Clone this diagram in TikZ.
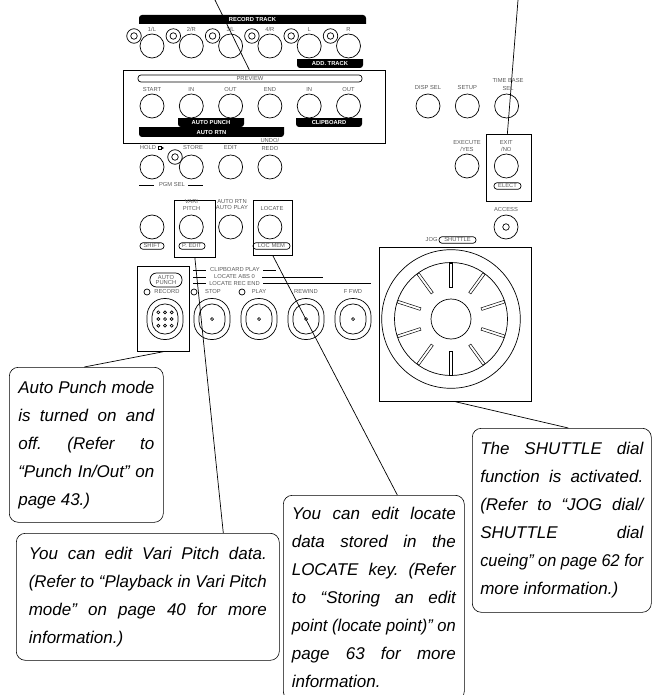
\documentclass[tikz,border=0pt]{standalone}
\usepackage{graphicx}
\usepackage{fontspec}
\setmainfont{Liberation Sans}
\usetikzlibrary{positioning}
\newsavebox{\fitbox}
\newcommand{\fitline}[2]{\leavevmode\spaceskip=0pt\xspaceskip=0pt\frenchspacing\sbox{\fitbox}{#2}\ifdim\wd\fitbox>#1pt\resizebox{#1pt}{\height}{\usebox{\fitbox}}\else\hbox to #1pt{#2}\fi}

\begin{document}
\begin{tikzpicture}[x=1pt,y=-1pt,node distance=39.3pt,on grid,line width=0.7pt,
 knob/.style={circle,draw,fill=white,minimum size=24pt,inner sep=0pt},
 jack/.style={circle,draw,minimum size=14.5pt,inner sep=0pt},
 jackhole/.style={circle,draw,minimum size=6.5pt,inner sep=0pt},
 led/.style={circle,draw,minimum size=6pt,inner sep=0pt},
 tag/.style={font=\fontsize{5.8}{7.3}\selectfont,text=black!65,inner sep=0pt,align=center},
 tighttag/.style={tag,font=\fontsize{5.8}{5.8}\selectfont},
 pill/.style={tag,draw=black,rounded corners=3pt,minimum height=6.5pt},
 barlabel/.style={font=\fontsize{5.8}{7}\selectfont\bfseries,text=white,inner sep=0pt},
 barup/.style={barlabel,path picture={\fill[rounded corners=3pt] ([yshift=-6pt]path picture bounding box.south west) rectangle (path picture bounding box.north east);}},
 bardown/.style={barlabel,path picture={\fill[rounded corners=3pt] (path picture bounding box.south west) rectangle ([yshift=6pt]path picture bounding box.north east);}},
 panelbox/.style={draw,inner sep=0pt,anchor=north west},
 oval/.style={draw,rounded corners=17.5pt,minimum width=36pt,minimum height=41pt,inner sep=0pt},
 ovalin/.style={draw,rounded corners=12.5pt,minimum width=26pt,minimum height=30pt,inner sep=0pt},
 hole/.style={circle,draw,fill=white,minimum size=3pt,inner sep=0pt},
 slot/.style={draw,fill=white,minimum width=24pt,minimum height=2.7pt,inner sep=0pt,line width=0.5pt},
 tick/.style={line width=1pt},
 note/.style={draw,fill=white,rounded corners=9pt,anchor=north west,inner ysep=0pt,line width=0.6pt,
  align=left,font=\fontsize{17}{28}\selectfont\itshape},
 leader/.style={line width=0.7pt}]
\useasboundingbox (0,0) rectangle (653,695);
% record track row
\node[barup,minimum width=227pt,minimum height=9pt] (recordbar) at (252.5,19.5) {RECORD TRACK};
\node[jack] (j1) at (134,36) {};
\node[jackhole] (j1h) at (j1) {};
\node[jack,right=of j1] (j2) {};
\node[jackhole] (j2h) at (j2) {};
\node[jack,right=of j2] (j3) {};
\node[jackhole] (j3h) at (j3) {};
\node[jack,right=of j3] (j4) {};
\node[jackhole] (j4h) at (j4) {};
\node[jack,right=of j4] (j5) {};
\node[jackhole] (j5h) at (j5) {};
\node[jack,right=of j5] (j6) {};
\node[jackhole] (j6h) at (j6) {};
\node[knob] (r1) at (152,46) {};
\node[knob,right=of r1] (r2) {};
\node[knob,right=of r2] (r3) {};
\node[knob,right=of r3] (r4) {};
\node[knob,right=of r4] (r5) {};
\node[knob,right=of r5] (r6) {};
\node[tag,above=16.5pt of r1] (r1t) {1/L};
\node[tag,above=16.5pt of r2] (r2t) {2/R};
\node[tag,above=16.5pt of r3] (r3t) {3/L};
\node[tag,above=16.5pt of r4] (r4t) {4/R};
\node[tag,above=16.5pt of r5] (r5t) {L};
\node[tag,above=16.5pt of r6] (r6t) {R};
\node[bardown,minimum width=66pt,minimum height=8pt] (addbar) at (330,64) {ADD. TRACK};
% preview panel
\node[panelbox,minimum width=262pt,minimum height=73pt] (previewbox) at (123,70) {};
\node[pill,minimum width=224pt,minimum height=7pt] (previewbar) at (250,78.5) {PREVIEW};
\node[knob] (p1) at (152,106) {};
\node[knob,right=of p1] (p2) {};
\node[knob,right=of p2] (p3) {};
\node[knob,right=of p3] (p4) {};
\node[knob,right=of p4] (p5) {};
\node[knob,right=of p5] (p6) {};
\node[tag,above=16pt of p1] (p1t) {START};
\node[tag,above=16pt of p2] (p2t) {IN};
\node[tag,above=16pt of p3] (p3t) {OUT};
\node[tag,above=16pt of p4] (p4t) {END};
\node[tag,above=16pt of p5] (p5t) {IN};
\node[tag,above=16pt of p6] (p6t) {OUT};
\node[bardown,minimum width=66pt,minimum height=8pt] (punchbar) at (211,123) {AUTO PUNCH};
\node[bardown,minimum width=145pt,minimum height=9pt] (rtnbar) at (211.5,132.5) {AUTO RTN};
\node[bardown,minimum width=66pt,minimum height=8pt] (clipbar) at (329,123) {CLIPBOARD};
% right hand keys
\node[knob] (disp) at (428,106) {};
\node[knob,right=of disp] (setup) {};
\node[knob,right=of setup] (timebase) {};
\node[tag,above=18pt of disp] (dispt) {DISP SEL};
\node[tag,above=18pt of setup] (setupt) {SETUP};
\node[tag,above=21.5pt of timebase,xshift=1.5pt] (timebaset) {TIME BASE\\SEL};
\node[panelbox,minimum width=45pt,minimum height=67pt] (exitbox) at (486,134) {};
\node[knob] (execute) at (467,166) {};
\node[knob,right=of execute] (exit) {};
\node[tag,above=20pt of execute] (executet) {EXECUTE\\/YES};
\node[tag,above=20pt of exit] (exitt) {EXIT\\/NO};
\node[pill,minimum width=27pt] (elect) at (507.5,186) {ELECT};
\node[knob] (access) at (506,227) {};
\node[jackhole] (accessh) at (access) {};
\node[tag,above=17pt of access] (accesst) {ACCESS};
% second row
\node[jack] (j7) at (175,157) {};
\node[jackhole] (j7h) at (j7) {};
\node[knob] (hold) at (152,167) {};
\node[knob,right=of hold] (store) {};
\node[knob,right=of store] (edit) {};
\node[knob,right=of edit] (redo) {};
\node[tag,anchor=west] (holdt) at (139.5,148) {HOLD};
\node[tag] (storet) at (193,148) {STORE};
\node[tag,above=19pt of edit] (editt) {EDIT};
\node[tag,above=22.5pt of redo] (redot) {UNDO/\\REDO};
\draw (158,146.5) rectangle (161,149.5);
\fill (161,146.5) -- (164,148) -- (161,149.5) -- cycle;
\node[tag] (pgmsel) at (172,185) {PGM SEL};
\draw ([xshift=-5pt]pgmsel.west) -- ++(-15,0);
\draw ([xshift=3pt]pgmsel.east) -- ++(15,0);
% third row
\node[knob] (shift) at (152,227) {};
\node[knob,right=of shift] (vari) {};
\node[knob,right=of vari] (rtnplay) {};
\node[knob,right=of rtnplay] (locate) {};
\node[pill,minimum width=24pt] (shiftt) at (152,246) {SHIFT};
\node[panelbox,minimum width=41pt,minimum height=57pt] (varibox) at (174,200) {};
\node[panelbox,minimum width=39pt,minimum height=55pt] (locatebox) at (253,200) {};
\node[tighttag] (varit) at (191.5,205) {VARI\\[0.4pt]PITCH};
\node[pill,minimum width=26pt] (pedit) at (192,246) {P. EDIT};
\node[tighttag] (rtnplayt) at (232,204.5) {AUTO RTN\\AUTO PLAY};
\node[tag] (locatet) at (272,209) {LOCATE};
\node[pill,minimum width=37pt] (locmem) at (271.5,246) {LOC MEM};
% transport
\node[panelbox,minimum width=52pt,minimum height=85pt] (punchbox) at (137,266) {};
\node[tag,draw=black,rounded corners=6.5pt,minimum width=32pt,minimum height=14pt] (punchkey) at (166,280) {AUTO\\[-1.5pt]PUNCH};
\node[led] (recled) at (147,292) {};
\node[tag] (rect) at (167,292) {RECORD};
\node[led] (stopled) at (194,292) {};
\node[tag] (stopt) at (213,292) {STOP};
\node[led] (playled) at (242,292) {};
\node[tag] (playt) at (259,292) {PLAY};
\node[tag] (rewt) at (306,292) {REWIND};
\node[tag] (fwdt) at (353,292) {F FWD};
\node[oval] (rec) at (165,319) {};
\node[ovalin] (recin) at (rec) {};
\node[oval] (stop) at (212,319) {};
\node[ovalin] (stopin) at (stop) {};
\node[hole] (stoph) at (stop) {};
\node[oval] (play) at (259,319) {};
\node[ovalin] (playin) at (play) {};
\node[hole] (playh) at (play) {};
\node[oval] (rew) at (306,319) {};
\node[ovalin] (rewin) at (rew) {};
\node[hole] (rewh) at (rew) {};
\node[oval] (fwd) at (353,319) {};
\node[ovalin] (fwdin) at (fwd) {};
\node[hole] (fwdh) at (fwd) {};
\node[hole] (d5) at (rec) {};
\node[hole] (d2) at ([yshift=6.7pt]d5) {};
\node[hole] (d8) at ([yshift=-6.7pt]d5) {};
\node[hole] (d4) at ([xshift=-6.7pt]d5) {};
\node[hole] (d6) at ([xshift=6.7pt]d5) {};
\node[hole] (d1) at ([xshift=-6.7pt]d2) {};
\node[hole] (d3) at ([xshift=6.7pt]d2) {};
\node[hole] (d7) at ([xshift=-6.7pt]d8) {};
\node[hole] (d9) at ([xshift=6.7pt]d8) {};
% locate legend
\node[tag] (legendone) at (235,270) {CLIPBOARD PLAY};
\node[tag] (legendtwo) at (234.5,277) {LOCATE ABS 0};
\node[tag] (legendthree) at (234.5,283.5) {LOCATE REC END};
\draw[tick] ([xshift=-4pt]legendone.west) -- ++(-13,0);
\draw[tick] ([xshift=-8pt]legendtwo.west) -- ++(-13,0);
\draw[tick] ([xshift=-3pt]legendthree.west) -- ++(-13,0);
\draw[tick] ([xshift=3pt]legendone.east) -- ++(13,0);
\draw[tick] ([xshift=7pt]legendtwo.east) -- ++(61,0);
\draw[tick] ([xshift=3pt]legendthree.east) -- ++(108,0);
% jog dial
\node[tag,anchor=east] (jogt) at (438,240) {JOG};
\node[pill,minimum width=37pt] (shuttlet) at (457.5,240) {SHUTTLE};
\node[panelbox,minimum width=152pt,minimum height=154pt] (jogbox) at (379,247) {};
\node[circle,draw,minimum size=138.6pt,inner sep=0pt] (jogouter) at (451,319) {};
\node[circle,draw,minimum size=113pt,inner sep=0pt] (jogmid) at (jogouter) {};
\node[circle,draw,minimum size=40pt,inner sep=0pt] (jogin) at (jogouter) {};
\path (jogouter) ++(90:44pt) node[slot,rotate=90] (s1) {};
\path (jogouter) ++(54:44pt) node[slot,rotate=54] (s2) {};
\path (jogouter) ++(18:44pt) node[slot,rotate=18] (s3) {};
\path (jogouter) ++(-18:44pt) node[slot,rotate=-18] (s4) {};
\path (jogouter) ++(-54:44pt) node[slot,rotate=-54] (s5) {};
\path (jogouter) ++(-90:44pt) node[slot,rotate=-90] (s6) {};
\path (jogouter) ++(-126:44pt) node[slot,rotate=-126] (s7) {};
\path (jogouter) ++(-162:44pt) node[slot,rotate=-162] (s8) {};
\path (jogouter) ++(162:44pt) node[slot,rotate=162] (s9) {};
\path (jogouter) ++(126:44pt) node[slot,rotate=126] (s10) {};
% notes
\node[note,text width=136pt,inner xsep=9pt,minimum height=155pt] (autonote) at (9,367) {%
\fitline{136}{Auto Punch mode}\\\fitline{136}{is turned on and}\\\fitline{136}{off. (Refer to}\\\fitline{136}{“Punch In/Out” on}\\page 43.)};
\node[note,text width=238pt,inner xsep=12.5pt,minimum height=127pt] (varinote) at (16,533) {%
\fitline{238}{You can edit Vari Pitch data.}\\\fitline{238}{(Refer to “Playback in Vari Pitch}\\\fitline{238}{mode” on page 40 for more}\\information.)};
\node[note,text width=164pt,inner xsep=8.5pt,minimum height=205pt] (locatenote) at (283,495) {%
\fitline{164}{You can edit locate}\\\fitline{164}{data stored in the}\\\fitline{164}{LOCATE key. (Refer}\\\fitline{164}{to “Storing an edit}\\\fitline{164}{point (locate point)” on}\\\fitline{164}{page 63 for more}\\information.};
\node[note,text width=163pt,inner xsep=8pt,minimum height=184pt] (shuttlenote) at (472,428) {%
\fitline{163}{The SHUTTLE dial}\\\fitline{163}{function is activated.}\\\fitline{163}{(Refer to “JOG dial/}\\\fitline{163}{SHUTTLE dial}\\\fitline{163}{cueing” on page 62 for}\\more information.)};
% leaders
\coordinate (topone) at (215,0);
\coordinate (toptwo) at (518,0);
\draw[leader] (topone) -- ([xshift=-5pt]previewbox.north);
\draw[leader] (toptwo) -- ([xshift=-1.5pt]exitbox.north);
\draw[leader] (punchbox.south) -- ([xshift=-2pt]autonote.north);
\draw[leader] (varibox.south) -- ([xshift=75.5pt]varinote.north);
\draw[leader] (locatebox.south) -- ([xshift=23.5pt]locatenote.north);
\draw[leader] (jogbox.south) -- ([xshift=6.5pt]shuttlenote.north);
\end{tikzpicture}
\end{document}
